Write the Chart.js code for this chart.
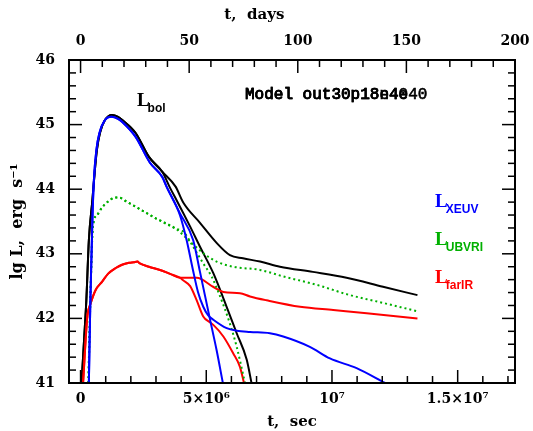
<!DOCTYPE html>
<html>
<head>
<meta charset="utf-8">
<script src="https://cdn.jsdelivr.net/npm/chart.js@4.4.1/dist/chart.umd.min.js"></script>
<style>
  html, body { margin: 0; padding: 0; background: #fff; }
  canvas { display: block; }
</style>
</head>
<body>
<canvas id="lc" width="533" height="431"></canvas>
<script>
// time in units of 1e6 s, luminosity as lg L (erg/s)

// axis ticks
const secTicks = [0, 5, 10, 15];
const secLabels = ['0', '5×10⁶', '10⁷', '1.5×10⁷'];
const dayTicks = [0, 50, 100, 150, 200];
const lgTicks = [41, 42, 43, 44, 45, 46];
const T_MIN = -0.46;
const T_MAX = 17.28; // 200 days

// L_bol, common rise then two tails
const tBolRise = [0.04, 0.14, 0.23, 0.33, 0.47, 0.57, 0.65, 0.77, 0.97, 1.25, 1.49, 1.66, 2.19, 2.72, 3.25];
const lBolRise = [41.00, 41.67, 42.28, 43.21, 43.83, 44.30, 44.61, 44.87, 45.07, 45.15, 45.12, 45.07, 44.87, 44.50, 44.27];
const tBolA = [3.78, 4.09, 4.75, 5.41, 5.94, 6.46, 7.14, 7.93, 9.24, 10.58, 12.03, 13.40];
const lBolA = [44.04, 43.79, 43.48, 43.17, 42.98, 42.93, 42.88, 42.80, 42.72, 42.63, 42.49, 42.36];
const tBolB = [3.56, 3.82, 4.36, 4.75, 5.28, 5.81, 6.21, 6.61, 6.80];
const lBolB = [44.02, 43.83, 43.42, 43.11, 42.70, 42.18, 41.77, 41.36, 41.00];

// L_XEUV
const tXRise = [0.33, 0.39, 0.47, 0.53, 0.63, 0.75, 0.95, 1.23, 1.49, 1.66, 2.19, 2.76, 3.25, 3.42];
const lXRise = [41.0, 42.28, 43.52, 44.14, 44.61, 44.87, 45.06, 45.12, 45.09, 45.04, 44.81, 44.41, 44.19, 44.04];
const tXA = [3.95, 4.22, 4.47, 4.67, 4.88, 5.07, 5.28, 5.81, 6.21, 6.74, 7.53, 8.06, 9.12, 9.92, 10.98, 12.11];
const lXA = [43.60, 43.21, 42.75, 42.41, 42.18, 42.05, 41.98, 41.85, 41.81, 41.79, 41.77, 41.72, 41.56, 41.38, 41.23, 41.0];
const tXB = [3.95, 4.48, 4.75, 5.14, 5.41, 5.66];
const lXB = [43.63, 43.21, 42.72, 42.00, 41.51, 41.0];

// L_UBVRI
const tURise = [0.31, 0.41, 0.49, 0.66, 0.86, 1.10, 1.37, 1.53, 1.82, 2.19, 2.99, 3.78];
const lURise = [41.0, 42.59, 43.42, 43.60, 43.72, 43.81, 43.87, 43.87, 43.81, 43.73, 43.55, 43.39];
const tUA = [4.22, 4.88, 5.41, 6.07, 7.14, 8.06, 9.39, 10.72, 12.03, 13.40];
const lUA = [43.24, 43.01, 42.88, 42.80, 42.75, 42.65, 42.52, 42.36, 42.24, 42.11];
const tUB = [4.09, 4.48, 4.88, 5.21, 5.55, 5.94, 6.21, 6.54];
const lUB = [43.34, 43.11, 42.85, 42.65, 42.34, 41.92, 41.56, 41.0];

// L_farIR
const tIRise = [0.10, 0.27, 0.40, 0.60, 0.86, 1.09, 1.40, 1.65, 1.93, 2.12, 2.26, 2.36, 2.72, 3.16, 3.56, 3.95];
const lIRise = [41.0, 42.03, 42.23, 42.44, 42.57, 42.69, 42.78, 42.83, 42.86, 42.87, 42.88, 42.85, 42.80, 42.75, 42.69, 42.63];
const tIA = [4.62, 5.27, 5.68, 6.34, 6.74, 7.40, 8.73, 10.05, 11.38, 13.40];
const lIA = [42.63, 42.49, 42.41, 42.39, 42.34, 42.28, 42.18, 42.13, 42.08, 42.00];
const tIB = [4.08, 4.36, 4.62, 4.88, 5.14, 5.28, 5.68, 6.07, 6.34, 6.50];
const lIB = [42.59, 42.50, 42.28, 42.03, 41.94, 41.90, 41.72, 41.46, 41.25, 41.00];

const BLUE = '#0000ff';
const GREEN = '#00b000';
const RED = '#ff0000';
const BLACK = '#000000';
const SERIF = '"DejaVu Serif", serif';

const toPoints = (ts, ls) => ts.map((t, i) => ({ x: t, y: ls[i] }));

const curve = (ts, ls, color, dashed) => ({
  data: toPoints(ts, ls),
  borderColor: color,
  borderWidth: 2,
  borderDash: dashed ? [2, 3] : [],
  pointRadius: 0,
  fill: false,
  cubicInterpolationMode: 'monotone',
});

// frame with inward ticks on all four sides, plus the top title
const frameTicks = {
  id: 'frameTicks',
  afterDraw(chart) {
    const { ctx, chartArea: a, scales } = chart;
    const line = (x1, y1, x2, y2) => {
      ctx.beginPath();
      ctx.moveTo(x1, y1);
      ctx.lineTo(x2, y2);
      ctx.stroke();
    };
    ctx.save();
    ctx.strokeStyle = '#000';
    ctx.lineWidth = 1.5;
    for (let v = 0; v <= 17; v++) {
      const x = scales.x.getPixelForValue(v);
      line(x, a.bottom, x, a.bottom - (v % 5 === 0 ? 13 : 7));
    }
    for (let d = 0; d <= 200; d += 10) {
      const x = scales.x2.getPixelForValue(d);
      line(x, a.top, x, a.top + (d % 50 === 0 ? 13 : 7));
    }
    for (let i = 0; i <= 25; i++) {
      const y = scales.y.getPixelForValue(41 + i * 0.2);
      const len = i % 5 === 0 ? 13 : 7;
      line(a.left, y, a.left + len, y);
      line(a.right, y, a.right - len, y);
    }
    ctx.lineWidth = 2;
    ctx.strokeRect(a.left, a.top, a.right - a.left, a.bottom - a.top);

    ctx.fillStyle = '#000';
    ctx.font = 'bold 15px ' + SERIF;
    ctx.textAlign = 'center';
    ctx.textBaseline = 'middle';
    ctx.fillText('t,  days', scales.x2.getPixelForValue(80), 15);
    ctx.restore();
  },
};

// curve labels with subscripts, placed in data coordinates
const curveLabels = [
  { t: 2.24, l: 45.29, main: 'L', sub: 'bol', color: BLACK },
  { t: 14.10, l: 43.72, main: 'L', sub: 'XEUV', color: BLUE },
  { t: 14.10, l: 43.14, main: 'L', sub: 'UBVRI', color: GREEN },
  { t: 14.10, l: 42.55, main: 'L', sub: 'farIR', color: RED },
];

const annotations = {
  id: 'annotations',
  afterDraw(chart) {
    const { ctx, scales } = chart;
    ctx.save();
    ctx.textBaseline = 'alphabetic';
    ctx.textAlign = 'left';
    curveLabels.forEach((c) => {
      const x = scales.x.getPixelForValue(c.t);
      const y = scales.y.getPixelForValue(c.l);
      ctx.fillStyle = c.color;
      ctx.font = 'bold 19px "Liberation Serif", serif';
      ctx.fillText(c.main, x, y);
      const w = ctx.measureText(c.main).width;
      ctx.font = 'bold 12px "Liberation Sans", sans-serif';
      ctx.fillText(c.sub, x + w - 2, y + 6);
    });
    // model name, two overlapping strings as in the original
    const mx = scales.x.getPixelForValue(6.54);
    const my = scales.y.getPixelForValue(45.40);
    ctx.fillStyle = '#000';
    ctx.font = '16px "Liberation Mono", monospace';
    ctx.lineWidth = 0.6;
    ctx.strokeStyle = '#000';
    ['Model out30p18n4e40', 'Model out30p18e40'].forEach((s) => {
      ctx.fillText(s, mx, my);
      ctx.strokeText(s, mx, my);
    });
    ctx.restore();
  },
};

const tickFont = { family: SERIF, size: 14, weight: 'bold' };
const titleFont = { family: SERIF, size: 15, weight: 'bold' };

const noPad = (s) => {
  s.paddingLeft = 0;
  s.paddingRight = 0;
  s.paddingTop = 0;
  s.paddingBottom = 0;
};

new Chart(document.getElementById('lc'), {
  type: 'line',
  data: {
    datasets: [
      curve(tXRise.concat(tXA), lXRise.concat(lXA), BLUE),
      curve(tXRise.concat(tXB), lXRise.concat(lXB), BLUE),
      curve(tURise.concat(tUA), lURise.concat(lUA), GREEN, true),
      curve(tURise.concat(tUB), lURise.concat(lUB), GREEN, true),
      curve(tIRise.concat(tIA), lIRise.concat(lIA), RED),
      curve(tIRise.concat(tIB), lIRise.concat(lIB), RED),
      curve(tBolRise.concat(tBolA), lBolRise.concat(lBolA), BLACK),
      curve(tBolRise.concat(tBolB), lBolRise.concat(lBolB), BLACK),
    ],
  },
  options: {
    responsive: false,
    animation: false,
    devicePixelRatio: 1,
    layout: { padding: { left: 0, right: 18, top: 0, bottom: 0 } },
    plugins: { legend: { display: false }, tooltip: { enabled: false } },
    scales: {
      x: {
        type: 'linear',
        position: 'bottom',
        min: T_MIN,
        max: T_MAX,
        afterBuildTicks: (s) => { s.ticks = secTicks.map((v) => ({ value: v })); },
        afterFit: (s) => { s.height = 48; noPad(s); },
        grid: { display: false, drawTicks: false },
        border: { display: false },
        ticks: {
          font: tickFont,
          color: '#000',
          padding: 8,
          maxRotation: 0,
          autoSkip: false,
          callback: (v) => secLabels[secTicks.indexOf(v)],
        },
        title: { display: true, text: 't,  sec', font: titleFont, color: '#000', padding: { top: 0, bottom: 0 } },
      },
      x2: {
        type: 'linear',
        position: 'top',
        min: (T_MIN * 1e6) / 86400,
        max: 200,
        afterBuildTicks: (s) => { s.ticks = dayTicks.map((v) => ({ value: v })); },
        afterFit: (s) => { s.height = 60; noPad(s); },
        grid: { display: false, drawTicks: false },
        border: { display: false },
        ticks: { font: tickFont, color: '#000', padding: 10, maxRotation: 0, autoSkip: false },
      },
      y: {
        type: 'linear',
        position: 'left',
        min: 41,
        max: 46,
        afterBuildTicks: (s) => { s.ticks = lgTicks.map((v) => ({ value: v })); },
        afterFit: (s) => { s.width = 69; noPad(s); },
        grid: { display: false, drawTicks: false },
        border: { display: false },
        ticks: { font: tickFont, color: '#000', padding: 14 },
        title: { display: true, text: 'lg L,  erg  s⁻¹', font: { family: SERIF, size: 16, weight: 'bold' }, color: '#000', padding: { top: 8, bottom: 0 } },
      },
    },
  },
  plugins: [frameTicks, annotations],
});
</script>
</body>
</html>
